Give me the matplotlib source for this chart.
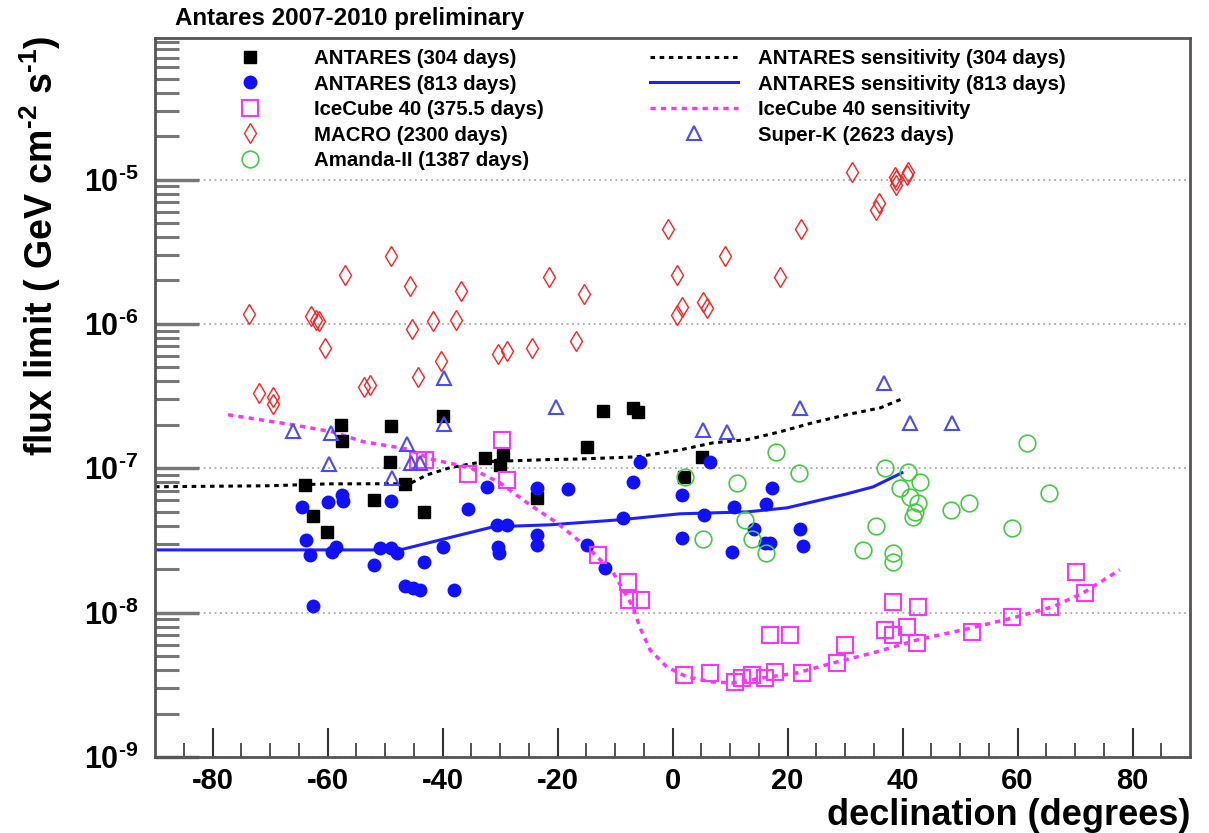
import numpy as np
import matplotlib.pyplot as plt
from matplotlib.ticker import FixedLocator, FuncFormatter, NullFormatter

plt.rcParams['font.family'] = ['Liberation Sans', 'DejaVu Sans']
plt.rcParams['font.weight'] = 'bold'
plt.rcParams['axes.unicode_minus'] = False
plt.rcParams['mathtext.fontset'] = 'custom'
plt.rcParams['mathtext.rm'] = 'Liberation Sans:bold'
plt.rcParams['mathtext.bf'] = 'Liberation Sans:bold'
plt.rcParams['mathtext.it'] = 'Liberation Sans:bold'
plt.rcParams['mathtext.default'] = 'rm'

# ---- datos ----
antares304_dec = [-63.9, -62.5, -60.1, -57.7, -57.5, -51.9, -49.1, -49.0, -46.5, -43.2, -39.9,
                  -32.6, -30.0, -29.5, -23.6, -14.9, -12.1, -6.9, -6.0, 2.0, 5.1]
antares304_flux = [7.7e-8, 4.7e-8, 3.6e-8, 2.0e-7, 1.55e-7, 6.0e-8, 1.1e-7, 1.95e-7, 7.8e-8, 5.0e-8, 2.3e-7,
                   1.18e-7, 1.06e-7, 1.24e-7, 6.2e-8, 1.4e-7, 2.5e-7, 2.6e-7, 2.45e-7, 8.7e-8, 1.2e-7]

antares813_dec = [-64.4, -63.7, -63.0, -62.5, -59.9, -59.2, -58.5, -57.5, -57.3, -51.9, -50.9, -49.0,
                  -47.9, -49.0, -46.5, -45.1, -43.9, -43.2, -39.9, -38.0, -35.6, -32.3, -30.5, -28.8,
                  -30.3, -30.2, -23.6, -23.6, -23.6, -18.2, -14.9, -11.7, -8.6, -6.9, -5.7, 1.7,
                  1.7, 5.5, 6.5, 10.3, 10.7, 14.2, 16.3, 17.3, 16.1, 17.0, 22.2, 22.7]
antares813_flux = [5.4e-8, 3.2e-8, 2.5e-8, 1.11e-8, 5.8e-8, 2.64e-8, 2.86e-8, 6.55e-8, 5.95e-8, 2.14e-8, 2.81e-8, 2.81e-8,
                   2.59e-8, 5.95e-8, 1.53e-8, 1.48e-8, 1.44e-8, 2.25e-8, 2.86e-8, 1.44e-8, 5.24e-8, 7.44e-8, 4.06e-8, 4.06e-8,
                   2.86e-8, 2.59e-8, 7.33e-8, 3.46e-8, 2.95e-8, 7.21e-8, 2.95e-8, 2.04e-8, 4.54e-8, 8.05e-8, 1.11e-7, 6.55e-8,
                   3.3e-8, 4.76e-8, 1.11e-7, 2.64e-8, 5.41e-8, 3.81e-8, 5.68e-8, 7.33e-8, 3.05e-8, 3.05e-8, 3.81e-8, 2.9e-8]

icecube_dec = [-44.3, -43.0, -35.6, -29.7, -28.8, -13.0, -7.7, -7.6, -5.5, 2.0, 6.5, 10.9, 12.1, 13.8, 16.1,
               17.0, 20.4, 17.8, 22.5, 28.6, 30.0, 37.0, 38.3, 42.7, 38.3, 40.8, 42.5, 52.1, 59.0, 65.7, 70.2, 71.7]
icecube_flux = [1.15e-7, 1.15e-7, 9.2e-8, 1.58e-7, 8.3e-8, 2.5e-8, 1.63e-8, 1.23e-8, 1.23e-8, 3.7e-9, 3.8e-9, 3.3e-9,
                3.5e-9, 3.7e-9, 3.5e-9, 7.0e-9, 7.0e-9, 3.9e-9, 3.8e-9, 4.5e-9, 6.0e-9, 7.6e-9, 1.19e-8, 1.1e-8,
                7.0e-9, 8.0e-9, 6.2e-9, 7.4e-9, 9.3e-9, 1.1e-8, 1.9e-8, 1.37e-8]

macro_dec = [-73.7, -71.9, -69.5, -69.5, -62.9, -62.0, -61.5, -60.4, -57.0, -53.6, -52.6, -48.9, -45.6,
             -45.3, -44.3, -41.7, -40.3, -37.7, -36.8, -30.3, -28.8, -24.4, -21.5, -16.8, -15.4, -0.8,
             0.8, 0.8, 1.7, 5.3, 6.0, 9.1, 18.7, 22.3, 31.2, 35.4, 35.9, 38.7, 38.8, 38.9, 40.8, 40.9]
macro_flux = [1.18e-6, 3.33e-7, 3.12e-7, 2.79e-7, 1.14e-6, 1.07e-6, 1.04e-6, 6.8e-7, 2.19e-6, 3.67e-7, 3.79e-7, 2.97e-6, 1.84e-6,
              9.2e-7, 4.3e-7, 1.04e-6, 5.5e-7, 1.07e-6, 1.7e-6, 6.2e-7, 6.5e-7, 6.8e-7, 2.13e-6, 7.6e-7, 1.6e-6, 4.57e-6,
              2.19e-6, 1.16e-6, 1.3e-6, 1.43e-6, 1.28e-6, 2.97e-6, 2.1e-6, 4.57e-6, 1.12e-5, 6.2e-6, 6.9e-6, 1.05e-5, 9.9e-6, 9.2e-6, 1.08e-5, 1.12e-5]

amanda_dec = [2.2, 5.3, 11.2, 12.6, 13.8, 16.3, 18.0, 22.0, 33.1, 35.4, 37.0, 38.3, 38.3, 39.6, 40.9,
              41.3, 41.8, 42.2, 42.7, 43.0, 48.4, 51.6, 59.0, 61.7, 65.5]
amanda_flux = [8.7e-8, 3.24e-8, 7.9e-8, 4.4e-8, 3.24e-8, 2.59e-8, 1.3e-7, 9.3e-8, 2.72e-8, 4.0e-8, 1.01e-7, 2.59e-8, 2.25e-8,
               7.33e-8, 9.46e-8, 6.34e-8, 4.61e-8, 5.0e-8, 5.77e-8, 8.05e-8, 5.15e-8, 5.77e-8, 3.87e-8, 1.5e-7, 6.76e-8]

superk_dec = [-66.0, -59.4, -59.7, -46.2, -48.8, -45.5, -43.9, -39.7, -39.7, -20.3, 5.3, 9.5, 22.2, 36.8, 41.3, 48.6]
superk_flux = [1.82e-7, 1.76e-7, 1.07e-7, 1.48e-7, 8.5e-8, 1.09e-7, 1.09e-7, 4.24e-7, 2.03e-7, 2.67e-7, 1.85e-7, 1.79e-7,
               2.62e-7, 3.92e-7, 2.07e-7, 2.07e-7]

sens304_dec = [-90, -70, -60, -45.7, -42.7, -38.7, -33.0, -27.0, -21.3, -16.1, -6.2, 1.3, 7.0, 13.0, 18.7, 24.4, 30.3, 36.1, 40.4]
sens304_flux = [7.45e-8, 7.57e-8, 7.8e-8, 7.82e-8, 9.0e-8, 1.01e-7, 1.11e-7, 1.13e-7, 1.15e-7, 1.16e-7, 1.2e-7, 1.34e-7,
                1.5e-7, 1.58e-7, 1.79e-7, 2.07e-7, 2.35e-7, 2.62e-7, 3.08e-7]

sens813_dec = [-90, -47.4, -40.4, -31.2, -21.3, -9.1, 1.3, 13.0, 19.9, 24.4, 30.3, 34.9, 39.9]
sens813_flux = [2.72e-8, 2.72e-8, 3.19e-8, 3.93e-8, 4.06e-8, 4.4e-8, 4.84e-8, 4.99e-8, 5.32e-8, 5.86e-8, 6.65e-8, 7.44e-8, 9.31e-8]

sensic_dec = [-77.3, -66.0, -59.2, -53.8, -46.2, -41.7, -35.2, -30.0, -25.3, -20.1, -14.3, -10.3, -6.9, -5.7, -3.9,
              -1.0, 2.5, 7.0, 10.5, 15.7, 21.6, 27.9, 35.5, 42.5, 51.2, 59.2, 66.2, 71.4, 77.8]
sensic_flux = [2.35e-7, 2.0e-7, 1.79e-7, 1.53e-7, 1.36e-7, 1.15e-7, 1.01e-7, 7.92e-8, 5.77e-8, 4.19e-8, 2.72e-8, 1.89e-8,
               1.1e-8, 7.96e-9, 5.52e-9, 4.21e-9, 3.59e-9, 3.31e-9, 3.26e-9, 3.53e-9, 3.82e-9, 4.48e-9, 5.35e-9, 6.47e-9,
               7.71e-9, 9.2e-9, 1.1e-8, 1.37e-8, 1.98e-8]

x_ticks = [-80, -60, -40, -20, 0, 20, 40, 60, 80]
y_decades = [-9, -8, -7, -6, -5]

W, H = 1209, 833
fig = plt.figure(figsize=(W / 100, H / 100), dpi=100)
ax = fig.add_axes([155 / W, (H - 757) / H, 1035 / W, 719 / H])

# sensibilidades
hs304, = ax.plot(sens304_dec, sens304_flux, color='black', lw=2.2, ls=(0, (1.5, 1.5)),
                 label='ANTARES sensitivity (304 days)')
hs813, = ax.plot(sens813_dec, sens813_flux, color='#1f1fff', lw=2.2, ls='-',
                 label='ANTARES sensitivity (813 days)')
hsic, = ax.plot(sensic_dec, sensic_flux, color='#ff33ff', lw=2.5, ls=(0, (1.5, 1.5)),
                label='IceCube 40 sensitivity')

# limites
h304, = ax.plot(antares304_dec, antares304_flux, 's', color='black', ms=9, ls='none',
                label='ANTARES (304 days)')
h813, = ax.plot(antares813_dec, antares813_flux, 'o', color='#1010ff', ms=9, ls='none',
                label='ANTARES (813 days)')
hic, = ax.plot(icecube_dec, icecube_flux, 's', mfc='none', mec='#ff33ff', mew=1.5, ms=11, ls='none',
               label='IceCube 40 (375.5 days)')
hmac, = ax.plot(macro_dec, macro_flux, 'd', mfc='none', mec='#ff2020', mew=1.0, ms=10, ls='none',
                label='MACRO (2300 days)')
hama, = ax.plot(amanda_dec, amanda_flux, 'o', mfc='none', mec='#44cc44', mew=1.2, ms=12, ls='none',
                label='Amanda-II (1387 days)')
hsk, = ax.plot(superk_dec, superk_flux, '^', mfc='none', mec='#4a4aff', mew=1.5, ms=10, ls='none',
               label='Super-K (2623 days)')

ax.set_yscale('log')
ax.set_xlim(-90, 90)
ax.set_ylim(1e-9, 9.57e-5)

ax.xaxis.set_major_locator(FixedLocator(x_ticks))
ax.xaxis.set_minor_locator(FixedLocator([v for v in range(-85, 90, 5) if v % 20 != 0]))
ax.yaxis.set_major_locator(FixedLocator([10.0 ** d for d in y_decades]))
ax.yaxis.set_minor_locator(FixedLocator([m * 10.0 ** d for d in y_decades for m in range(2, 10)
                                         if m * 10.0 ** d < 9.57e-5]))
ax.yaxis.set_major_formatter(FuncFormatter(lambda v, p: r'$10^{\text{-}%d}$' % abs(round(np.log10(v)))))
ax.yaxis.set_minor_formatter(NullFormatter())

ax.tick_params(axis='x', which='major', direction='in', length=21, width=1.5, color='#333333',
               labelsize=21, pad=7, top=False)
ax.tick_params(axis='x', which='minor', direction='in', length=10, width=1.2, color='#333333', top=False)
ax.tick_params(axis='y', which='major', direction='in', length=32, width=2.5, color='#777777',
               labelsize=22, pad=12, right=False)
ax.tick_params(axis='y', which='minor', direction='in', length=17, width=2.2, color='#777777', right=False)

ax.yaxis.grid(True, which='major', ls=(0, (1, 2)), color='#aaaaaa', lw=1.3)
for s in ax.spines.values():
    s.set_color('#555555')
    s.set_linewidth(2)

leg_kw = dict(loc='upper left', bbox_transform=fig.transFigure, frameon=False, borderpad=0,
              borderaxespad=0, handlelength=4.3, handletextpad=1.0, labelspacing=0.32,
              numpoints=1, prop={'size': 14.7, 'weight': 'bold'})
leg1 = ax.legend(handles=[h304, h813, hic, hmac, hama], bbox_to_anchor=(206 / W, 1 - 49 / H), **leg_kw)
ax.add_artist(leg1)
ax.legend(handles=[hs304, hs813, hsic, hsk], bbox_to_anchor=(650 / W, 1 - 49 / H), **leg_kw)

fig.text(175 / W, 1 - 18 / H, 'Antares 2007-2010 preliminary', ha='left', va='center',
         fontsize=17.4, fontweight='bold')
fig.text(40 / W, 1 - 35 / H, r'flux limit ( GeV cm$^{\text{-}2}$ s$^{\text{-}1}$)', rotation=90,
         ha='center', va='top', fontsize=27, fontweight='bold')
fig.text(1190 / W, 1 - 825 / H, 'declination (degrees)', ha='right', va='baseline',
         fontsize=26, fontweight='bold')

fig.savefig('out.png', dpi=100)
